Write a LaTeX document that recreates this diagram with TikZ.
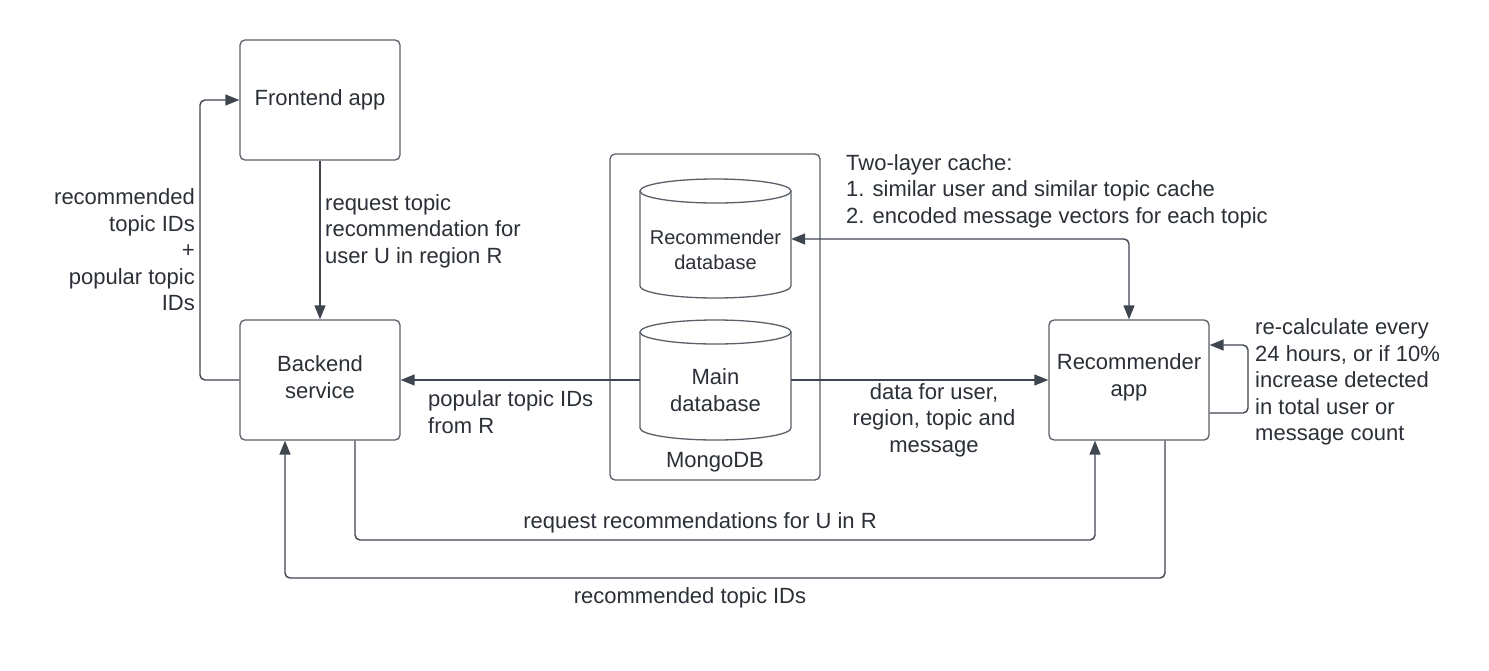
\documentclass[tikz,border=0pt]{standalone}
\usepackage{fontspec}
\setmainfont{Liberation Sans}
\usetikzlibrary{arrows.meta,calc}
\definecolor{ln}{HTML}{3F464F}
\definecolor{bx}{HTML}{5A6068}
\definecolor{tx}{HTML}{2B3037}
\tikzset{
  box/.style={draw=bx, line width=1.3pt, rounded corners=5pt, minimum width=160pt, minimum height=120pt, inner sep=0pt, align=center, text=tx, font=\fontsize{22}{27}\selectfont},
  conn/.style={draw=ln, line width=1.4pt, rounded corners=5pt},
  arr/.style={conn, -{Triangle[length=14pt,width=11pt]}},
  darr/.style={conn, {Triangle[length=14pt,width=11pt]}-{Triangle[length=14pt,width=11pt]}},
  lbl/.style={text=tx, font=\fontsize{22}{26.5}\selectfont, inner sep=0pt},
  dbtxt/.style={text=tx, align=center, inner sep=0pt},
}
\begin{document}
\begin{tikzpicture}[x=1pt,y=-1pt]
\useasboundingbox[fill=white] (0,0) rectangle (1489,670);

% boxes
\node[box] (frontend) at (320,100) {Frontend app};
\node[box] (backend) at (320,380) {};
\node[box] (recapp) at (1129,380) {};
\node[dbtxt, font=\fontsize{22}{27}\selectfont] (backendtxt) at (320,377) {Backend\\service};
\node[dbtxt, font=\fontsize{22}{27}\selectfont] (recapptxt) at (1129,377) {Recommender\\app};

% MongoDB container
\node[draw=bx, line width=1.3pt, rounded corners=5pt, minimum width=210pt, minimum height=326pt, inner sep=0pt] (mongo) at (715,317) {};
\node[lbl, anchor=center] (mongolbl) at (715,462) {MongoDB};

% cylinders
\node[minimum width=151pt, minimum height=118pt, inner sep=0pt] (recdb) at (715.5,239) {};
\draw[draw=bx, line width=1.3pt] (640,191) -- (640,286) arc[start angle=180, end angle=360, x radius=75.5pt, y radius=12pt] -- (791,191);
\draw[draw=bx, line width=1.3pt] (715.5,191) ellipse[x radius=75.5pt, y radius=12pt];
\node[dbtxt, font=\fontsize{20}{25}\selectfont] (recdbtxt) at (715.5,250) {Recommender\\database};

\node[minimum width=151pt, minimum height=120pt, inner sep=0pt] (maindb) at (715.5,380) {};
\draw[draw=bx, line width=1.3pt] (640,332) -- (640,428) arc[start angle=180, end angle=360, x radius=75.5pt, y radius=12pt] -- (791,332);
\draw[draw=bx, line width=1.3pt] (715.5,332) ellipse[x radius=75.5pt, y radius=12pt];
\node[dbtxt, font=\fontsize{22}{27}\selectfont] (maindbtxt) at (715.5,390) {Main\\database};

% connectors
\draw[arr] (backend.west) -- (200,380) |- (frontend.west);
\draw[arr] (frontend.south) -- (backend.north);
\draw[arr] (maindb.west) -- (backend.east);
\draw[arr] (maindb.east) -- (recapp.west);
\draw[darr] (recdb.east) -| (recapp.north);
\draw[arr] ($(recapp.east)+(0,33)$) -- (1248,413) |- ($(recapp.east)+(0,-35)$);
\draw[arr] ($(backend.south)+(35,0)$) -- (355,540) -| ($(recapp.south)+(-34,0)$);
\draw[arr] ($(recapp.south)+(36,0)$) -- (1165,578) -| ($(backend.south)+(-35,0)$);

% labels
\node[lbl, align=right, anchor=east] (l1) at (195,250) {recommended\\topic IDs\\+\\popular topic\\IDs};
\node[lbl, align=left, anchor=west] (l2) at (325,231) {request topic\\recommendation for\\user U in region R};
\node[lbl, align=left, anchor=west] (l3) at (428,412) {popular topic IDs\\from R};
\node[lbl, align=center, anchor=center] (l4) at (934,420) {data for user,\\region, topic and\\message};
\node[lbl, align=left, anchor=west] (l5) at (846,191) {Two-layer cache:\\1. similar user and similar topic cache\\2. encoded message vectors for each topic};
\node[lbl, align=left, anchor=west] (l6) at (1255,382) {re-calculate every\\24 hours, or if 10\%\\increase detected\\in total user or\\message count};
\node[lbl, anchor=center] (l7) at (700,523) {request recommendations for U in R};
\node[lbl, anchor=center] (l8) at (690,598) {recommended topic IDs};
\end{tikzpicture}
\end{document}
